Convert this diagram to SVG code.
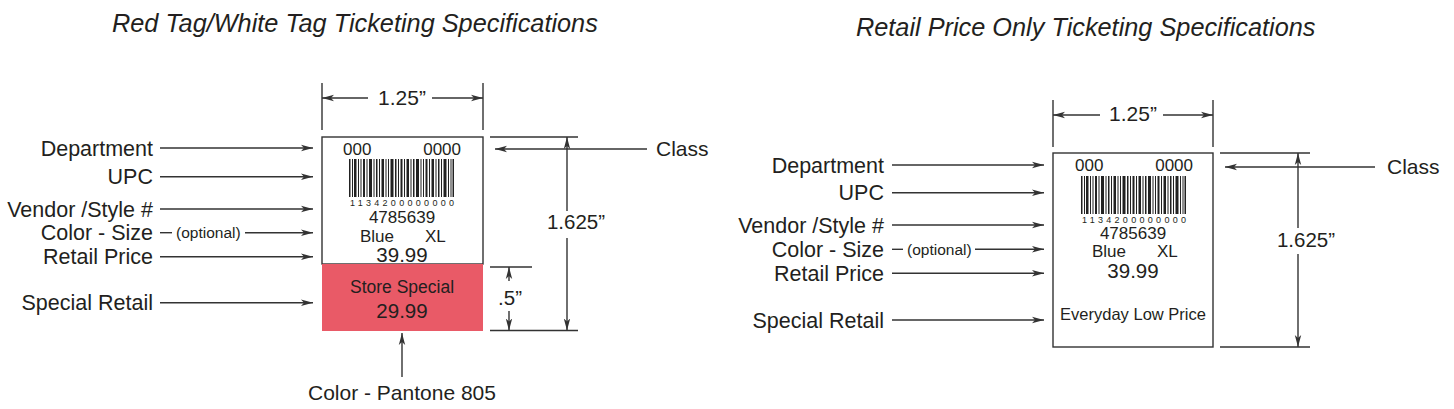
<svg xmlns="http://www.w3.org/2000/svg" xmlns:xlink="http://www.w3.org/1999/xlink" width="1454" height="409" viewBox="0 0 1454 409">
<style>
text{font-family:"Liberation Sans",Arial,sans-serif;fill:#231f20}
.title{font-size:25.3px;font-style:italic}
.lbl{font-size:21.5px;text-anchor:end}
.opt{font-size:15.5px}
.dim{font-size:20.5px;text-anchor:middle}
.tag{font-size:17px}
.mid{text-anchor:middle}
.price{font-size:20.5px;text-anchor:middle}
.digits{font-size:9px}
.ln{stroke:#333;stroke-width:1.4;fill:none}
.arr{stroke:#333;stroke-width:1.4;fill:none;marker-end:url(#ah)}
.box{fill:#fff;stroke:#333;stroke-width:1.4}
</style>
<defs>
<marker id="ah" markerUnits="userSpaceOnUse" markerWidth="14" markerHeight="10" refX="12" refY="4" orient="auto-start-reverse" viewBox="0 0 14 8">
<path d="M0 0.8L12 4L0 7.2L3 4Z" fill="#333"/>
</marker>
<g id="barcode">
<path fill="#222" d="M0 0h1.5v38h-1.5zM3 0h1v38h-1zM5 0h2.5v38h-2.5zM9 0h1v38h-1zM11.5 0h1v38h-1zM14 0h2v38h-2zM17.5 0h1v38h-1zM20 0h3v38h-3zM24.5 0h1v38h-1zM27 0h1.5v38h-1.5zM30 0h1v38h-1zM32.5 0h2.5v38h-2.5zM36.5 0h1v38h-1zM39 0h1v38h-1zM41.5 0h3v38h-3zM46 0h1.5v38h-1.5zM49 0h1v38h-1zM51.5 0h2v38h-2zM55 0h1v38h-1zM57.5 0h2.5v38h-2.5zM61.5 0h1v38h-1zM64 0h1.5v38h-1.5zM67 0h3v38h-3zM71.5 0h1v38h-1zM74 0h1v38h-1zM76.5 0h2v38h-2zM80 0h1v38h-1zM82.5 0h2.5v38h-2.5zM86.5 0h1v38h-1zM89 0h1.5v38h-1.5zM92 0h1v38h-1zM94.5 0h3v38h-3zM99 0h1v38h-1zM101.5 0h1v38h-1zM103.5 0h1.5v38h-1.5z"/>
<text class="digits" x="1" y="47" textLength="104" lengthAdjust="spacing">1134200000000</text>
</g>
</defs>

<text class="title" x="112" y="32">Red Tag/White Tag Ticketing Specifications</text>
<text class="title" x="856" y="36">Retail Price Only Ticketing Specifications</text>

<!-- Left tag -->
<g id="tag-left">
<rect class="box" x="322" y="137" width="161" height="127"/>
<rect x="322" y="264" width="161" height="67" fill="#e95a67"/>
<text class="tag" x="343" y="155">000</text>
<text class="tag" x="461" y="155" text-anchor="end">0000</text>
<use xlink:href="#barcode" x="349" y="159"/>
<text class="tag mid" x="402" y="223">4785639</text>
<text class="tag" x="360" y="242">Blue</text>
<text class="tag" x="425" y="242">XL</text>
<text class="price" x="402" y="262">39.99</text>
<text class="tag mid" x="402" y="293" style="font-size:17.5px">Store Special</text>
<text class="price" x="402" y="318">29.99</text>
</g>

<!-- Right tag -->
<g id="tag-right">
<rect class="box" x="1053" y="153" width="160" height="194"/>
<text class="tag" x="1075" y="171">000</text>
<text class="tag" x="1193" y="171" text-anchor="end">0000</text>
<use xlink:href="#barcode" x="1081" y="176"/>
<text class="tag mid" x="1133" y="239">4785639</text>
<text class="tag" x="1092" y="257">Blue</text>
<text class="tag" x="1157" y="257">XL</text>
<text class="price" x="1133" y="278">39.99</text>
<text class="tag mid" x="1133" y="320" style="font-size:16.5px">Everyday Low Price</text>
</g>

<!-- Left labels -->
<g id="labels-left">
<text class="lbl" x="153" y="155.5">Department</text>
<text class="lbl" x="153" y="184">UPC</text>
<text class="lbl" x="153" y="216.5">Vendor /Style #</text>
<text class="lbl" x="153" y="240">Color - Size</text>
<text class="opt" x="176" y="238">(optional)</text>
<text class="lbl" x="153" y="264">Retail Price</text>
<text class="lbl" x="153" y="310">Special Retail</text>
<text style="font-size:21px" x="402" y="400" text-anchor="middle">Color - Pantone 805</text>
<text style="font-size:21px" x="656" y="156">Class</text>
</g>

<!-- Right labels -->
<g id="labels-right">
<text class="lbl" x="884" y="172.5">Department</text>
<text class="lbl" x="884" y="200">UPC</text>
<text class="lbl" x="884" y="232.5">Vendor /Style #</text>
<text class="lbl" x="884" y="256.5">Color - Size</text>
<text class="opt" x="907" y="254.5">(optional)</text>
<text class="lbl" x="884" y="280.5">Retail Price</text>
<text class="lbl" x="884" y="327.5">Special Retail</text>
<text style="font-size:21px" x="1387" y="174">Class</text>
</g>

<!-- Dimensions text -->
<g id="dims">
<text class="dim" x="402" y="105" style="font-size:21px">1.25”</text>
<text class="dim" x="576" y="229">1.625”</text>
<text class="dim" x="510" y="305">.5”</text>
<text class="dim" x="1133" y="121" style="font-size:21px">1.25”</text>
<text class="dim" x="1306" y="247">1.625”</text>
</g>

<g id="connectors">
<!-- left label arrows -->
<path class="arr" d="M160 148H313"/>
<path class="arr" d="M160 176.7H313"/>
<path class="arr" d="M160 209H313"/>
<path class="ln" d="M160 232.7H172"/>
<path class="arr" d="M245 232.7H313"/>
<path class="arr" d="M160 256.7H313"/>
<path class="arr" d="M160 302.7H313"/>
<path class="arr" d="M647 149H495"/>
<path class="arr" d="M402 377V333"/>
<!-- left dims -->
<path class="ln" d="M322 83V130M483 83V130"/>
<path class="arr" d="M368 98H322"/>
<path class="arr" d="M432 98H483"/>
<path class="ln" d="M490 137H578M490 330.5H578M490 267H532"/>
<path class="arr" d="M567 211V137"/>
<path class="arr" d="M567 238V330.5"/>
<path class="arr" d="M509 281V267"/>
<path class="arr" d="M509 311V330.5"/>
<!-- right label arrows -->
<path class="arr" d="M892 165H1044"/>
<path class="arr" d="M892 192.7H1044"/>
<path class="arr" d="M892 225H1044"/>
<path class="ln" d="M892 249.3H903"/>
<path class="arr" d="M975 249.3H1044"/>
<path class="arr" d="M892 273.3H1044"/>
<path class="arr" d="M892 320H1044"/>
<path class="arr" d="M1375 167H1225"/>
<!-- right dims -->
<path class="ln" d="M1053 100V147M1213 100V147"/>
<path class="arr" d="M1100 115H1053"/>
<path class="arr" d="M1163 115H1213"/>
<path class="ln" d="M1220 153H1310M1220 347H1310"/>
<path class="arr" d="M1298 228V153"/>
<path class="arr" d="M1298 254V347"/>
</g>
</svg>
